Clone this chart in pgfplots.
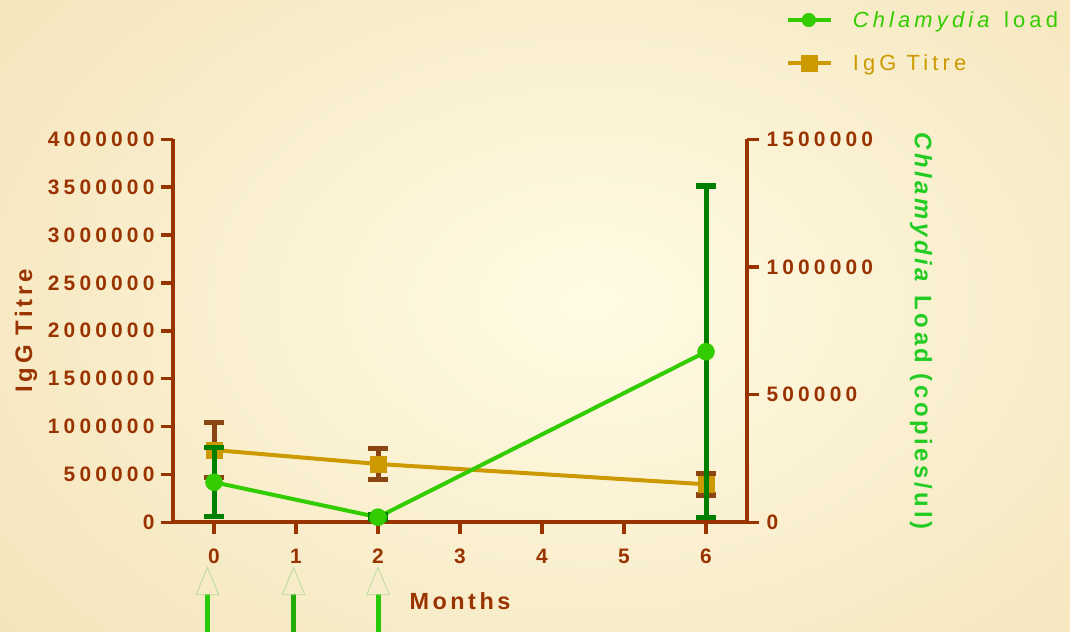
\documentclass[border=0pt]{standalone}
\usepackage{pgfplots}
\usepackage{pgfplotstable}
\pgfplotsset{compat=1.18}
\usepackage{fontspec}
\setmainfont{Liberation Sans}
\newfontfamily\tickfont[LetterSpace=20]{Liberation Sans}
\newfontfamily\labfont[LetterSpace=15]{Liberation Sans}
\newfontfamily\legfont[LetterSpace=19]{Liberation Sans}

\definecolor{axbrown}{RGB}{153,51,0}
\definecolor{igg}{RGB}{204,153,0}
\definecolor{iggerr}{RGB}{139,69,19}
\definecolor{chl}{RGB}{51,204,0}
\definecolor{chlerr}{RGB}{0,128,0}
\definecolor{chllab}{RGB}{34,204,34}
\definecolor{dosegreen}{RGB}{40,200,10}
\definecolor{trigreen}{RGB}{184,220,152}
\definecolor{bgin}{RGB}{255,251,228}
\definecolor{bgout}{RGB}{236,212,156}

% IgG titre (left axis)
\pgfplotstableread{
x y err
0 755000 289000
2 609000 160000
6 397000 113000
}\iggdata
% Chlamydia load (right axis)
\pgfplotstableread{
x y err
0 157000 135000
2 20000 8000
6 668000 650000
}\chldata

\pgfplotsset{
  base/.style={
    at={(173bp,109.7bp)}, anchor=south west,
    scale only axis, width=574bp, height=383bp,
    xmin=-0.5, xmax=6.5, ymin=0,
    clip=false,
    axis line style={-, axbrown, line width=3.8bp},
    tick style={axbrown, line width=3.5bp},
    major tick length=12bp, tick align=outside,
    scaled y ticks=false,
    /pgf/number format/fixed,
    /pgf/number format/precision=0,
    /pgf/number format/assume math mode=true,
    /pgf/number format/1000 sep={},
    tick label style={font=\tickfont\bfseries\fontsize{21}{25}\selectfont, text=axbrown},
  }
}

\begin{document}
\begin{tikzpicture}
\useasboundingbox (0,0) rectangle (1070bp,632bp);
\begin{scope}
  \clip (0,0) rectangle (1070bp,632bp);
  \fill[bgout] (0,0) rectangle (1070bp,632bp);
  \shade[inner color=bgin, outer color=bgout] (590bp,330bp) ellipse (1300bp and 900bp);
\end{scope}

\begin{axis}[base,
  axis x line*=bottom, axis y line*=left,
  ymax=4000000,
  ytick={0,500000,...,4000000},
  xtick={0,...,6},
  xticklabel style={yshift=-11bp},
  yticklabel style={xshift=-3bp},
  xlabel={Months},
  xlabel style={font=\labfont\bfseries\fontsize{23.5}{27}\selectfont, text=axbrown,
    at={(axis description cs:0.5,-0.205)}, anchor=center},
  ylabel={IgG Titre},
  ylabel shift=4bp,
  ylabel style={font=\labfont\bfseries\fontsize{24}{28}\selectfont, text=axbrown},
]
\addplot[igg, line width=4bp, mark=square*, mark size=8bp,
  mark options={line width=0.5bp, draw=igg, fill=igg},
  error bars/.cd, y dir=both, y explicit,
  error bar style={iggerr, line width=5bp},
  error mark options={iggerr, line width=5.5bp, mark size=10bp, rotate=90}]
  table[x=x, y=y, y error=err] {\iggdata};
% dose markers below the axis
\addplot[only marks, mark=triangle, mark size=13bp,
  mark options={draw=trigreen, line width=0.8bp, yscale=1.4}]
  coordinates {(-0.08,-661000) (0.97,-661000) (2,-661000)};
\addplot[dosegreen, line width=5bp] coordinates {(-0.08,-745000) (-0.08,-1300000)};
\addplot[dosegreen!85!black, line width=5bp] coordinates {(0.97,-745000) (0.97,-1300000)};
\addplot[dosegreen, line width=5bp] coordinates {(2,-745000) (2,-1300000)};
\end{axis}

\begin{axis}[base,
  axis x line=none, axis y line*=right,
  ymax=1500000,
  ytick={0,500000,1000000,1500000},
  yticklabel style={xshift=4bp},
  ylabel={\textit{Chlamydia} Load (copies/ul)},
  ylabel shift=30bp,
  ylabel style={font=\labfont\bfseries\fontsize{24}{28}\selectfont, text=chllab, rotate=180},
  legend style={at={(rel axis cs:1.062,1.345)}, anchor=north west, draw=none, fill=none,
    font=\legfont\fontsize{22}{26}\selectfont, row sep=22bp, column sep=18bp,
    cells={anchor=west}},
  legend image code/.code={\draw[mark repeat=2, mark phase=2, #1]
    plot coordinates {(0bp,0bp) (21bp,0bp) (43bp,0bp)};},
]
\addlegendimage{chl, line width=4bp, mark=*, mark size=6.8bp, mark options={fill=chl, line width=0.5bp}}
\addlegendentry{\textcolor{chl}{\textit{Chlamydia} load}}
\addlegendimage{igg, line width=4bp, mark=square*, mark size=8bp, mark options={fill=igg, line width=0.5bp}}
\addlegendentry{\textcolor{igg}{IgG Titre}}
\addplot[chl, line width=4bp, mark=*, mark size=8.5bp, forget plot,
  mark options={line width=0.5bp, draw=chl, fill=chl},
  error bars/.cd, y dir=both, y explicit,
  error bar style={chlerr, line width=5bp},
  error mark options={chlerr, line width=5.5bp, mark size=10bp, rotate=90}]
  table[x=x, y=y, y error=err] {\chldata};
\end{axis}
\end{tikzpicture}
\end{document}
